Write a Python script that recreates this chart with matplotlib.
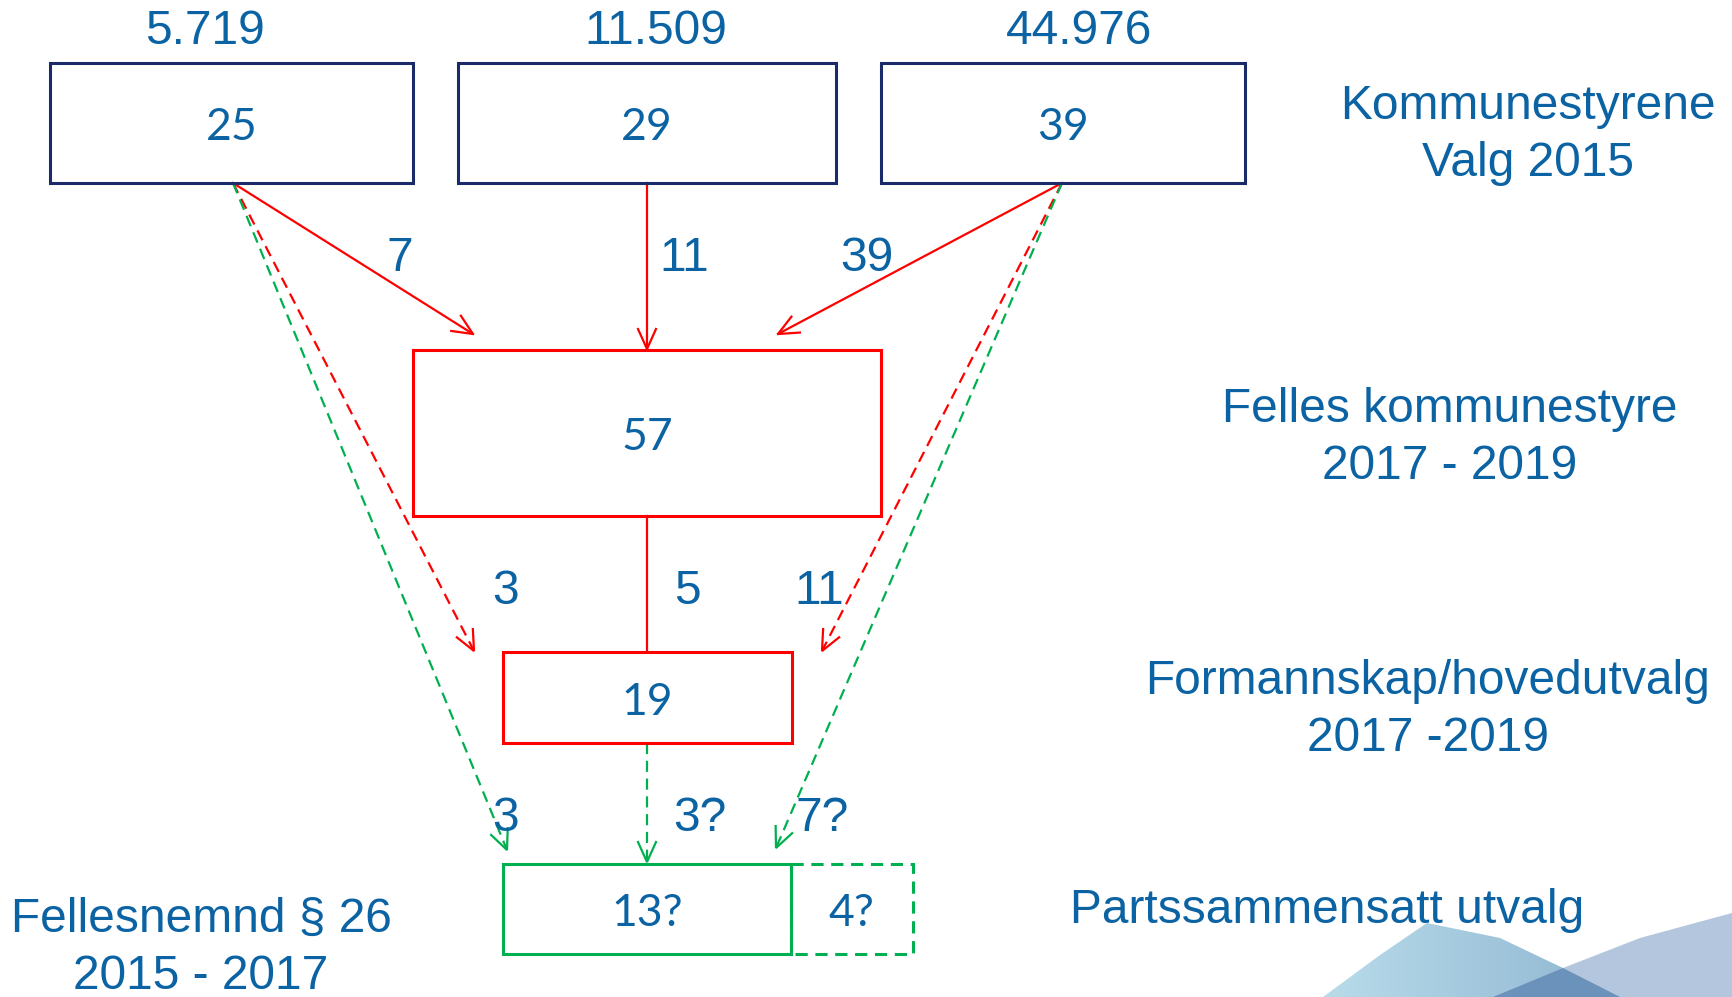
import numpy as np
import matplotlib

matplotlib.use("Agg")
import matplotlib.pyplot as plt
from matplotlib.patches import Rectangle, Polygon

# --- data -------------------------------------------------------------
populations = ["5.719", "11.509", "44.976"]          # innbyggere per kommune
council_sizes = [25, 29, 39]                          # kommunestyrer, valg 2015
joint_council = 57                                    # felles kommunestyre
reps_to_joint = [7, 11, 39]
executive = 19                                        # formannskap/hovedutvalg
reps_to_executive = ["3", "5", "11"]
board_main, board_extra = "13?", "4?"                 # fellesnemnd / partssammensatt
reps_to_board = ["3", "3?", "7?"]
level_labels = ["Kommunestyrene\nValg 2015",
                "Felles kommunestyre\n2017 - 2019",
                "Formannskap/hovedutvalg\n2017 -2019",
                "Partssammensatt utvalg"]
board_label = "Fellesnemnd § 26\n2015 - 2017"

# --- style --------------------------------------------------------------
TXT = "#0b63a3"
NAVY = "#1b2a68"
RED = "#ff0000"
GREEN = "#00b050"
ARIAL = "Liberation Sans"
CALIBRI = "Lato"
BIG = 34.5     # Arial labels
NUM = 32       # numbers inside boxes
DY = 4         # va="center" sits a bit high compared with the slide

fig = plt.figure(figsize=(17.32, 9.97), dpi=100)
ax = fig.add_axes([0, 0, 1, 1])
ax.set_xlim(0, 1732)
ax.set_ylim(997, 0)
ax.axis("off")


def box(x0, y0, x1, y1, color, lw=2.2, ls="-"):
    ax.add_patch(Rectangle((x0, y0), x1 - x0, y1 - y0, facecolor="none",
                           edgecolor=color, lw=lw, ls=ls, zorder=3))


def arrow(p0, p1, color, dashed=False, head=True):
    (x0, y0), (x1, y1) = p0, p1
    ax.plot([x0, x1], [y0, y1], color=color, lw=1.6,
            ls=(0, (5, 3)) if dashed else "-", zorder=2)
    if not head:
        return
    u = np.array([x1 - x0, y1 - y0], dtype=float)
    u /= np.hypot(*u)
    n = np.array([-u[1], u[0]])
    tip = np.array([x1, y1])
    back = tip - 20 * u
    a, b = back + 9 * n, back - 9 * n
    ax.plot([a[0], tip[0], b[0]], [a[1], tip[1], b[1]], color=color, lw=1.6,
            zorder=2, solid_joinstyle="miter")


def label(x, y, s):
    ax.text(x, y + DY, s, ha="center", va="center", fontsize=BIG, color=TXT,
            family=ARIAL, linespacing=1.37)


def number(x, y, s):
    ax.text(x, y + DY, s, ha="center", va="center", fontsize=NUM, color=TXT,
            family=CALIBRI)


# top row: the three municipal councils
top_boxes = [(50, 413), (458, 836), (881, 1245)]
for (x0, x1), size in zip(top_boxes, council_sizes):
    box(x0, 63, x1, 183, NAVY)
    number((x0 + x1) / 2, 124, str(size))
for x, pop in zip([205, 656, 1079], populations):
    label(x, 28, pop)

src = [(233, 183), (647, 183), (1062, 183)]

# joint council
box(413, 350, 881, 516, RED)
number(647, 433, str(joint_council))
for s, t in zip(src, [(473, 334), (647, 349), (778, 334)]):
    arrow(s, t, RED)
for x, v in zip([400, 684, 867], reps_to_joint):
    label(x, 254, str(v))

# executive committee
box(503, 652, 792, 743, RED)
number(647, 698, str(executive))
arrow((647, 516), (647, 652), RED, head=False)
arrow(src[0], (474, 651), RED, dashed=True)
arrow(src[2], (822, 651), RED, dashed=True)
for x, v in zip([506, 687, 819], reps_to_executive):
    label(x, 587, v)

# joint board
box(503, 864, 791, 954, GREEN)
box(791, 864, 913, 954, GREEN, ls=(0, (4, 2.5)))
number(647, 909, board_main)
number(851, 909, board_extra)
arrow(src[0], (507, 850), GREEN, dashed=True)
arrow((647, 743), (647, 862), GREEN, dashed=True)
arrow(src[2], (776, 848), GREEN, dashed=True)
for x, v in zip([506, 700, 822], reps_to_board):
    label(x, 814, v)

# level labels
for (x, y), lab in zip([(1528, 131), (1450, 434), (1428, 706), (1327, 906)],
                       level_labels):
    label(x, y, lab)
label(201, 944, board_label)

# decorative swooshes, bottom right
light = Polygon([(1323, 997), (1380, 955), (1427, 923), (1500, 938),
                 (1563, 968), (1620, 997)], closed=True, facecolor="none",
                edgecolor="none", zorder=0)
ax.add_patch(light)
grad = np.linspace(0, 1, 256).reshape(1, -1)
im = ax.imshow(grad, extent=(1323, 1620, 997, 923), aspect="auto",
               cmap=matplotlib.colors.LinearSegmentedColormap.from_list(
                   "sw", ["#b9dcea", "#8fb6d2"]), zorder=0)
im.set_clip_path(light)
ax.add_patch(Polygon([(1493, 997), (1563, 968), (1640, 938), (1732, 913),
                      (1732, 997)], closed=True, facecolor="#b3c6dd",
                     edgecolor="none", zorder=0))
ax.add_patch(Polygon([(1493, 997), (1563, 968), (1620, 997)], closed=True,
                     facecolor="#6a92ba", edgecolor="none", zorder=1))
ax.set_xlim(0, 1732)
ax.set_ylim(997, 0)

fig.savefig("out.png", dpi=100)
